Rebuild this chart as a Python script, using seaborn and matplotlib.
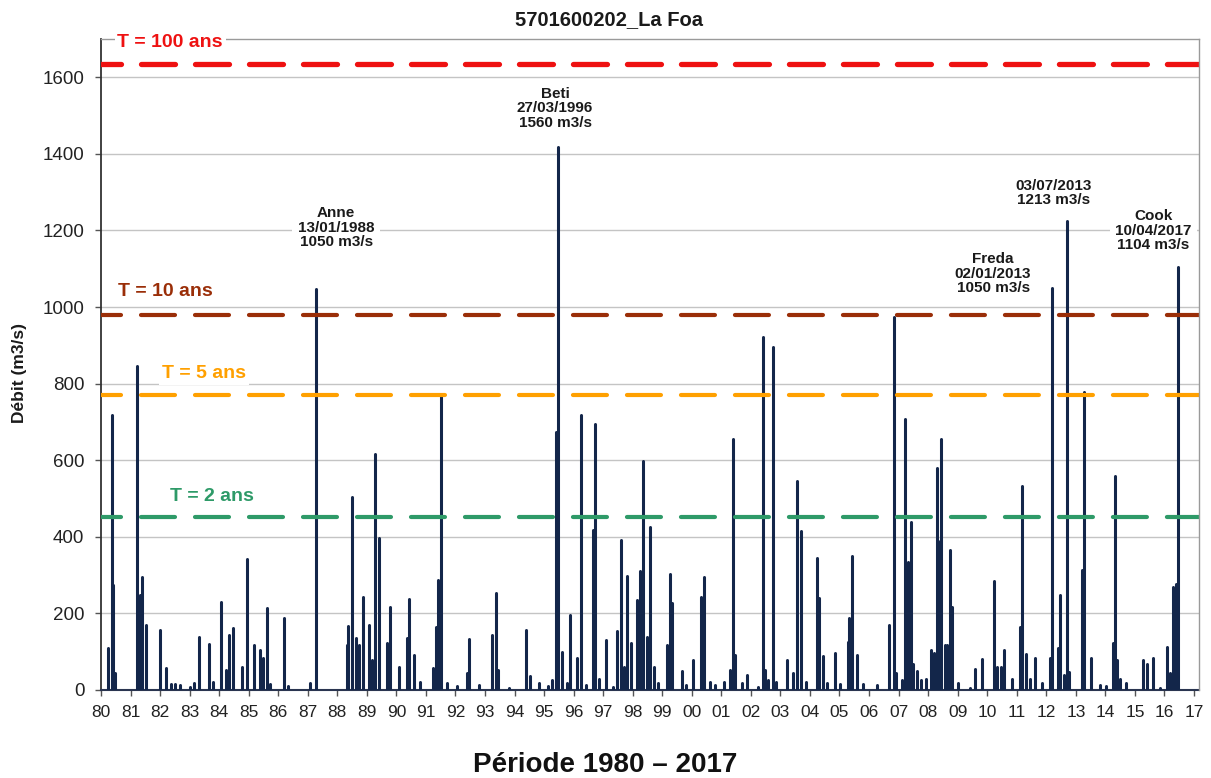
import numpy as np
import pandas as pd
import matplotlib
matplotlib.use("Agg")
import matplotlib.pyplot as plt
import seaborn as sns

# ---------------- data ----------------
event_year = [
    1980.23, 1980.36, 1980.42, 1980.47, 1981.21, 1981.32, 1981.38, 1981.51,
    1982.01, 1982.20, 1982.37, 1982.50, 1982.67, 1983.01, 1983.15, 1983.33,
    1983.67, 1983.79, 1984.05, 1984.22, 1984.34, 1984.46, 1984.78, 1984.94,
    1985.18, 1985.38, 1985.47, 1985.61, 1985.72, 1986.18, 1986.33, 1987.08,
    1987.27, 1988.32, 1988.37, 1988.51, 1988.63, 1988.72, 1988.86, 1989.08,
    1989.17, 1989.28, 1989.41, 1989.67, 1989.80, 1990.09, 1990.35, 1990.43,
    1990.61, 1990.80, 1991.25, 1991.34, 1991.42, 1991.50, 1991.70, 1992.04,
    1992.38, 1992.46, 1992.80, 1993.23, 1993.37, 1993.45, 1993.81, 1994.39,
    1994.52, 1994.83, 1995.13, 1995.26, 1995.39, 1995.46, 1995.61, 1995.77,
    1995.89, 1996.12, 1996.24, 1996.42, 1996.65, 1996.73, 1996.86, 1997.10,
    1997.32, 1997.48, 1997.60, 1997.71, 1997.82, 1997.95, 1998.16, 1998.26,
    1998.34, 1998.47, 1998.60, 1998.72, 1998.87, 1999.15, 1999.25, 1999.34,
    1999.66, 1999.80, 2000.05, 2000.30, 2000.41, 2000.62, 2000.79, 2001.10,
    2001.29, 2001.38, 2001.46, 2001.69, 2001.86, 2002.23, 2002.40, 2002.48,
    2002.58, 2002.74, 2002.85, 2003.21, 2003.44, 2003.55, 2003.69, 2003.87,
    2004.23, 2004.31, 2004.45, 2004.56, 2004.85, 2005.02, 2005.28, 2005.33,
    2005.43, 2005.60, 2005.81, 2006.26, 2006.69, 2006.84, 2006.91, 2007.11,
    2007.22, 2007.33, 2007.42, 2007.50, 2007.62, 2007.76, 2007.93, 2008.09,
    2008.20, 2008.29, 2008.35, 2008.44, 2008.57, 2008.63, 2008.74, 2008.80,
    2009.02, 2009.42, 2009.59, 2009.81, 2010.23, 2010.32, 2010.46, 2010.58,
    2010.83, 2011.11, 2011.18, 2011.31, 2011.45, 2011.62, 2011.84, 2012.13,
    2012.20, 2012.41, 2012.46, 2012.60, 2012.71, 2012.78, 2013.20, 2013.29,
    2013.50, 2013.82, 2014.02, 2014.25, 2014.33, 2014.38, 2014.49, 2014.70,
    2015.28, 2015.40, 2015.60, 2015.85, 2016.08, 2016.19, 2016.30, 2016.39,
    2016.47,
]
event_debit = [
    109, 717, 273, 44, 847, 248, 295, 169,
    156, 57, 15, 15, 12, 8, 18, 138,
    120, 20, 229, 52, 143, 161, 61, 341,
    117, 104, 83, 214, 15, 189, 10, 18,
    1047, 117, 167, 505, 135, 117, 242, 169,
    78, 615, 396, 122, 217, 61, 135, 237,
    91, 20, 57, 165, 287, 771, 18, 10,
    44, 133, 13, 143, 254, 52, 5, 156,
    36, 18, 10, 26, 673, 1418, 99, 18,
    195, 83, 718, 13, 419, 695, 30, 130,
    9, 155, 391, 60, 297, 123, 235, 310,
    599, 139, 426, 60, 19, 117, 304, 226,
    50, 12, 78, 243, 295, 20, 13, 22,
    52, 655, 91, 18, 39, 8, 921, 52,
    25, 897, 20, 78, 44, 547, 414, 20,
    346, 239, 89, 18, 97, 15, 126, 187,
    349, 91, 16, 13, 169, 973, 44, 26,
    708, 334, 439, 69, 50, 26, 29, 104,
    96, 580, 390, 656, 117, 117, 365, 217,
    18, 5, 56, 80, 284, 60, 61, 104,
    28, 165, 534, 94, 30, 83, 19, 83,
    1051, 109, 248, 40, 1225, 48, 314, 777,
    83, 13, 10, 122, 558, 78, 30, 18,
    78, 69, 83, 5, 113, 44, 269, 278,
    1105,
]

threshold_labels = ["T = 100 ans", "T = 10 ans", "T = 5 ans", "T = 2 ans"]
threshold_values = [1635, 980, 770, 452]

event_names = ["Anne\n13/01/1988\n1050 m3/s",
               "Beti\n27/03/1996\n1560 m3/s",
               "Freda\n02/01/2013\n1050 m3/s",
               "03/07/2013\n1213 m3/s",
               "Cook\n10/04/2017\n1104 m3/s"]

year_ticks = list(range(1980, 2018))
year_tick_labels = [f"{y % 100:02d}" for y in year_ticks]
y_ticks = [0, 200, 400, 600, 800, 1000, 1200, 1400, 1600]

# ---------------- style ----------------
sns.set_theme(style="white")
plt.rcParams['font.family'] = ['Liberation Sans', 'DejaVu Sans']

navy = "#13264a"
thr_colors = ["#ee1111", "#9a2e08", "#ffa000", "#2e9a68"]
thr_lw = [3.8, 3.0, 3.0, 3.0]

fig = plt.figure(figsize=(12.11, 7.78), dpi=100)
ax = fig.add_axes([101/1211, 1-690/778, (1199-101)/1211, (690-39)/778])

# spikes: each event drawn as a vertical stem from 0 to its value
rows = []
for i, (x, v) in enumerate(zip(event_year, event_debit)):
    rows.append({"year": x, "debit": 0.0, "ev": i})
    rows.append({"year": x, "debit": float(v), "ev": i})
df = pd.DataFrame(rows)
sns.lineplot(data=df, x="year", y="debit", units="ev", estimator=None,
             color=navy, lw=2.2, sort=False, ax=ax, zorder=3)

# return-period thresholds
for lab, val, c, lw in zip(threshold_labels, threshold_values, thr_colors, thr_lw):
    on = 34 / 1.389 / lw
    off = 20 / 1.389 / lw
    offset = 14 / 1.389 / lw
    ax.axhline(val, color=c, lw=lw, zorder=4, dash_capstyle='round',
               linestyle=(offset, (on, off)))

thr_pos = [(1982.34, 1691), (1982.19, 1040), (1983.49, 826), (1983.75, 504)]
for (lab, c, (px, py)) in zip(threshold_labels, thr_colors, thr_pos):
    ax.text(px, py, lab, color=c, fontsize=14, fontweight='bold',
            ha='center', va='center', zorder=6, clip_on=False,
            bbox=dict(facecolor='white', edgecolor='none', pad=2))

ann_pos = [(1987.96, 1207), (1995.37, 1519), (2010.20, 1087),
           (2012.23, 1298), (2015.62, 1199)]
for txt, (px, py) in zip(event_names, ann_pos):
    ax.text(px, py, txt, color="#1a1a1a", fontsize=11, fontweight='bold',
            ha='center', va='center', multialignment='center', linespacing=1.05,
            zorder=6, bbox=dict(facecolor='white', edgecolor='none', pad=4))

# axes
ax.set_xlim(1980, 2017.17)
ax.set_ylim(0, 1700)
ax.set_xticks(year_ticks)
ax.set_xticklabels(year_tick_labels)
ax.set_yticks(y_ticks)
ax.set_yticklabels([str(v) for v in y_ticks])
ax.yaxis.grid(True, color="#c4c4c4", lw=1.0, zorder=0)
ax.xaxis.grid(False)
ax.set_axisbelow(True)
ax.tick_params(axis='x', which='major', direction='out', length=4, width=1,
               color="#555555", labelsize=12.5, labelcolor="#222222", pad=7,
               bottom=True)
ax.tick_params(axis='y', which='major', direction='out', length=4, width=1,
               color="#555555", labelsize=13.5, labelcolor="#222222", pad=8,
               left=True)
ax.set_xlabel("")
ax.set_ylabel("")
for s in ["top", "right"]:
    ax.spines[s].set_color("#9a9a9a")
    ax.spines[s].set_linewidth(1.0)
ax.spines["right"].set_zorder(7)
ax.spines["left"].set_color("#333333")
ax.spines["left"].set_linewidth(1.3)
ax.spines["bottom"].set_color("#2a3550")
ax.spines["bottom"].set_linewidth(1.5)

fig.text(0.503, 1-20/778, "5701600202_La Foa", ha='center', va='center',
         fontsize=14.5, fontweight='bold', color="#1a1a1a")
fig.text(20/1211, 1-373/778, "Débit (m3/s)", rotation=90, ha='center',
         va='center', fontsize=12.5, fontweight='bold', color="#1a1a1a")
fig.text(0.5, 1-765/778, "Période 1980 – 2017", ha='center', va='center',
         fontsize=20, fontweight='bold', color="#111111")

fig.savefig("out.png", dpi=100)
